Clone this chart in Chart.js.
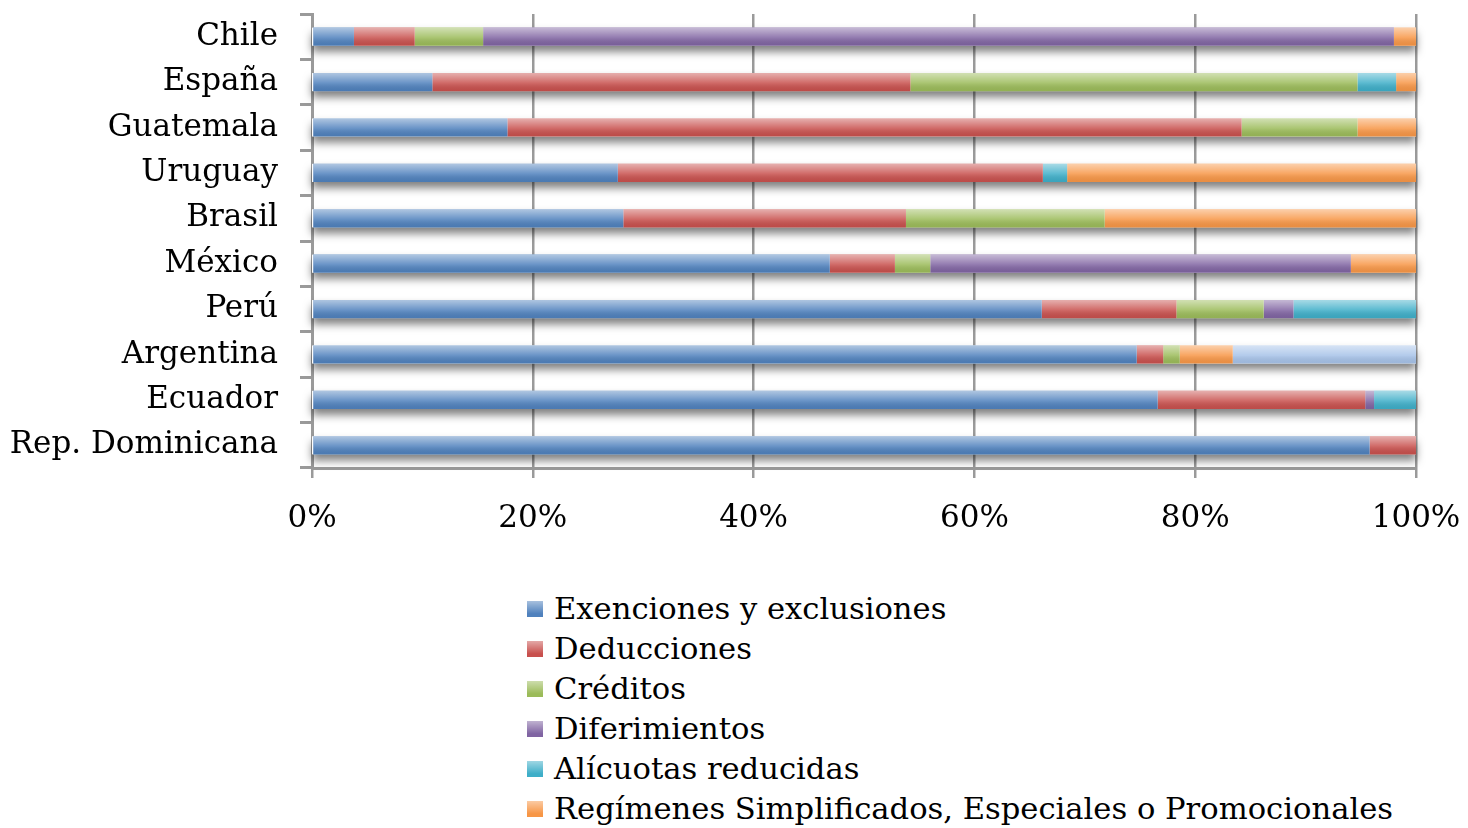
<!DOCTYPE html>
<html>
<head>
<meta charset="utf-8">
<script src="https://cdn.jsdelivr.net/npm/chart.js@4.4.1/dist/chart.umd.min.js"></script>
<style>
  html, body { margin: 0; padding: 0; background: #fff; overflow: hidden; }
  #wrap { position: relative; width: 1468px; height: 828px; }
  #chart-box { position: absolute; left: 0; top: 0; width: 1468px; height: 560px; }
  #legend { position: absolute; left: 527px; top: 589px; font-family: "DejaVu Serif", serif; font-size: 30.6px; color: #000; }
  #legend .row { height: 40px; line-height: 40px; display: flex; align-items: center; white-space: nowrap; }
  #legend .box { width: 16px; height: 16px; margin-right: 11px; }
</style>
</head>
<body>
<div id="wrap">
  <div id="chart-box"><canvas id="chart"></canvas></div>
  <div id="legend"></div>
</div>
<script>
// Data (percent of total per country)
const countries = ['Chile', 'España', 'Guatemala', 'Uruguay', 'Brasil', 'México', 'Perú', 'Argentina', 'Ecuador', 'Rep. Dominicana'];
const exenciones    = [3.8, 10.9, 17.7, 27.7, 28.2, 46.9, 66.1, 74.7, 76.6, 95.8];
const deducciones   = [5.5, 43.3, 66.5, 38.5, 25.6, 5.9, 12.2, 2.4, 18.8, 4.2];
const creditos      = [6.2, 40.5, 10.5, 0, 18.0, 3.2, 7.9, 1.5, 0, 0];
const diferimientos = [82.5, 0, 0, 0, 0, 38.1, 2.7, 0, 0.8, 0];
const alicuotas     = [0, 3.5, 0, 2.2, 0, 0, 11.1, 0, 3.8, 0];
const regimenes     = [2.0, 1.8, 5.3, 31.6, 28.2, 5.9, 0, 4.8, 0, 0];
const otros         = [0, 0, 0, 0, 0, 0, 0, 16.6, 0, 0];
const xTicks = [0, 20, 40, 60, 80, 100];

const FONT = '"DejaVu Serif", serif';
const AXIS_GREY = '#9a9a9a';

const series = [
    { label: 'Exenciones y exclusiones', data: exenciones, color: '#4f81bd', legend: true },
    { label: 'Deducciones', data: deducciones, color: '#c8504d', legend: true },
    { label: 'Créditos', data: creditos, color: '#9bbb59', legend: true },
    { label: 'Diferimientos', data: diferimientos, color: '#8064a2', legend: true },
    { label: 'Alícuotas reducidas', data: alicuotas, color: '#3eaec8', legend: true },
    { label: 'Regímenes Simplificados, Especiales o Promocionales', data: regimenes, color: '#f79646', legend: true },
    { label: 'Otros', data: otros, color: '#a6c2e8', legend: false }
];

// soft drop shadow under each full bar
const barShadow = {
    id: 'barShadow',
    beforeDatasetsDraw(chart) {
        const ctx = chart.ctx;
        const meta = chart.getDatasetMeta(0);
        const xs = chart.scales.x;
        ctx.save();
        ctx.shadowColor = 'rgba(0,0,0,0.5)';
        ctx.shadowBlur = 8;
        ctx.shadowOffsetY = 6;
        ctx.fillStyle = '#fff';
        meta.data.forEach((el, i) => {
            const total = chart.data.datasets.reduce((s, d) => s + d.data[i], 0);
            const x0 = xs.getPixelForValue(0);
            const x1 = xs.getPixelForValue(total);
            ctx.fillRect(x0, el.y - el.height / 2, x1 - x0, el.height);
        });
        ctx.restore();
    }
};

// light glossy gradient on top of every segment
const barGloss = {
    id: 'barGloss',
    afterDatasetsDraw(chart) {
        const ctx = chart.ctx;
        ctx.save();
        chart.data.datasets.forEach((ds, di) => {
            chart.getDatasetMeta(di).data.forEach(el => {
                const w = Math.abs(el.x - el.base);
                if (w < 0.5) return;
                const top = el.y - el.height / 2;
                const g = ctx.createLinearGradient(0, top, 0, top + el.height);
                g.addColorStop(0, 'rgba(255,255,255,0.55)');
                g.addColorStop(0.55, 'rgba(255,255,255,0.15)');
                g.addColorStop(1, 'rgba(0,0,0,0.05)');
                ctx.fillStyle = g;
                ctx.fillRect(Math.min(el.x, el.base), top, w, el.height);
            });
        });
        ctx.restore();
    }
};

const ctx = document.getElementById('chart').getContext('2d');
new Chart(ctx, {
    type: 'bar',
    data: {
        labels: countries,
        datasets: series.map(s => ({
            label: s.label,
            data: s.data,
            backgroundColor: s.color,
            borderWidth: 0,
            barPercentage: 0.4,
            categoryPercentage: 1.0
        }))
    },
    options: {
        indexAxis: 'y',
        responsive: true,
        maintainAspectRatio: false,
        animation: false,
        layout: { padding: { top: 14, right: 52, left: 0, bottom: 0 } },
        plugins: {
            legend: { display: false },
            tooltip: { enabled: false }
        },
        scales: {
            x: {
                stacked: true,
                min: 0,
                max: 100,
                afterBuildTicks: s => { s.ticks = xTicks.map(v => ({ value: v })); },
                afterFit: s => {
                    s.height = 92;
                    s.paddingLeft = 0;
                    s.paddingRight = 0;
                },
                grid: {
                    color: AXIS_GREY,
                    lineWidth: 2.5,
                    tickLength: 10,
                    drawTicks: true
                },
                border: { display: true, color: AXIS_GREY, width: 3 },
                ticks: {
                    color: '#000',
                    font: { family: FONT, size: 31 },
                    padding: 22,
                    maxRotation: 0,
                    callback: v => v + '%'
                }
            },
            y: {
                stacked: true,
                afterFit: s => {
                    s.width = 312;
                    s.paddingTop = 0;
                    s.paddingBottom = 0;
                },
                grid: {
                    drawOnChartArea: false,
                    color: AXIS_GREY,
                    lineWidth: 3,
                    tickLength: 12,
                    offset: true
                },
                border: { display: true, color: AXIS_GREY, width: 3 },
                ticks: {
                    color: '#000',
                    font: { family: FONT, size: 31 },
                    padding: 22
                }
            }
        }
    },
    plugins: [barShadow, barGloss]
});

// legend: one entry per row
const legendEl = document.getElementById('legend');
series.filter(s => s.legend).forEach(s => {
    const row = document.createElement('div');
    row.className = 'row';
    const box = document.createElement('span');
    box.className = 'box';
    box.style.background = `linear-gradient(to bottom, rgba(255,255,255,0.5), rgba(255,255,255,0) 80%), ${s.color}`;
    const txt = document.createElement('span');
    txt.textContent = s.label;
    row.appendChild(box);
    row.appendChild(txt);
    legendEl.appendChild(row);
});
</script>
</body>
</html>
